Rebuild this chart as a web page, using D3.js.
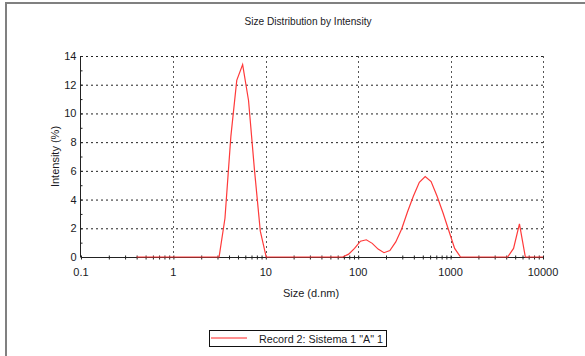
<!DOCTYPE html>
<html>
<head>
<meta charset="utf-8">
<script src="https://cdn.jsdelivr.net/npm/d3@7"></script>
<style>
  body { margin: 0; background: #fff; }
  svg text { font-family: "Liberation Sans", Arial, sans-serif; fill: #1a1a24; }
</style>
</head>
<body>
<div id="chart"></div>
<script>
var svgWidth = 585;
var svgHeight = 356;

// size bins (d.nm)
var sizes = [0.4, 0.4632, 0.5365, 0.6213, 0.7195, 0.8332, 0.9649, 1.117, 1.294, 1.499,
  1.736, 2.01, 2.328, 2.696, 3.122, 3.615, 4.187, 4.849, 5.615, 6.503,
  7.531, 8.721, 10.1, 11.7, 13.54, 15.69, 18.17, 21.04, 24.36, 28.21,
  32.67, 37.84, 43.82, 50.75, 58.77, 68.06, 78.82, 91.28, 105.7, 122.4,
  141.8, 164.2, 190.1, 220.2, 255, 295.3, 342, 396.1, 458.7, 531.2,
  615.1, 712.4, 825, 955.4, 1106, 1281, 1484, 1718, 1990, 2305,
  2669, 3091, 3580, 4145, 4801, 5560, 6439, 7456, 8635, 10000];

// intensity (%) for each bin
var intensity = [0, 0, 0, 0, 0, 0, 0, 0, 0, 0,
  0, 0, 0, 0, 0, 2.7, 8.4, 12.3, 13.4, 10.9,
  6.1, 1.8, 0, 0, 0, 0, 0, 0, 0, 0,
  0, 0, 0, 0, 0, 0, 0.2, 0.6, 1.1, 1.2,
  0.95, 0.55, 0.3, 0.45, 1.05, 1.95, 3.15, 4.25, 5.2, 5.6,
  5.25, 4.25, 3.1, 1.85, 0.6, 0, 0, 0, 0, 0,
  0, 0, 0, 0, 0.6, 2.3, 0, 0, 0, 0];

var xTicks = [0.1, 1, 10, 100, 1000, 10000];
var xTickLabels = ["0.1", "1", "10", "100", "1000", "10000"];
var yTicks = [0, 2, 4, 6, 8, 10, 12, 14];

var seriesName = 'Record 2: Sistema 1 "A" 1';

var plot = { left: 81, right: 543, top: 56, bottom: 257 };

var svg = d3.select("#chart")
    .append("svg")
    .attr("width", svgWidth)
    .attr("height", svgHeight);

// grey frame, top and left only
svg.append("line").attr("x1", 5).attr("x2", svgWidth).attr("y1", 3).attr("y2", 3)
    .attr("stroke", "#808080").attr("stroke-width", 2);
svg.append("line").attr("x1", 6).attr("x2", 6).attr("y1", 2).attr("y2", svgHeight)
    .attr("stroke", "#808080").attr("stroke-width", 2);

var x = d3.scaleLog().domain([0.1, 10000]).range([plot.left, plot.right]);
var y = d3.scaleLinear().domain([0, 14]).range([plot.bottom, plot.top]);

// dotted grid
svg.append("g").selectAll("line")
    .data(yTicks.slice(1))
    .join("line")
    .attr("x1", plot.left).attr("x2", plot.right)
    .attr("y1", d => y(d) + 0.5).attr("y2", d => y(d) + 0.5)
    .attr("stroke", "#222").attr("stroke-dasharray", "2,3");

svg.append("g").selectAll("line")
    .data(xTicks.slice(1))
    .join("line")
    .attr("x1", d => Math.round(x(d)) + 0.5).attr("x2", d => Math.round(x(d)) + 0.5)
    .attr("y1", plot.top).attr("y2", plot.bottom)
    .attr("stroke", "#555").attr("stroke-dasharray", "2,3");

// minor ticks on the x axis
var minor = [];
for (var i = 0; i < xTicks.length - 1; i++) {
    for (var k = 2; k <= 9; k++) minor.push(xTicks[i] * k);
}

var xAxis = d3.axisBottom(x)
    .tickValues(xTicks.concat(minor))
    .tickSize(2)
    .tickFormat("");

var gx = svg.append("g")
    .attr("transform", `translate(0,${plot.bottom + 0.5})`)
    .call(xAxis);
gx.selectAll(".tick line").attr("y1", -2).attr("stroke", "#222");
gx.select(".domain").attr("stroke", "#222").attr("d", `M${plot.left},0H${plot.right}`);

gx.selectAll(".xlab")
    .data(xTicks)
    .join("text")
    .attr("class", "xlab")
    .attr("x", d => x(d))
    .attr("y", 18)
    .attr("text-anchor", "middle")
    .style("font-size", "11px")
    .text((d, i) => xTickLabels[i]);

// y axis with minor ticks at each unit
var yAxis = d3.axisLeft(y)
    .tickValues(d3.range(0, 15, 1))
    .tickSize(3)
    .tickFormat("");

var gy = svg.append("g")
    .attr("transform", `translate(${plot.left - 0.5},0)`)
    .call(yAxis);
gy.selectAll(".tick line").attr("x2", 2).attr("stroke", "#222");
gy.select(".domain").attr("stroke", "#222").attr("d", `M0,${plot.top}V${plot.bottom}`);

gy.selectAll(".ylab")
    .data(yTicks)
    .join("text")
    .attr("class", "ylab")
    .attr("x", -4)
    .attr("y", d => y(d) + 4)
    .attr("text-anchor", "end")
    .style("font-size", "11px")
    .text(d => d);

// the distribution curve
var line = d3.line()
    .x((d, i) => x(sizes[i]))
    .y(d => y(d));

svg.append("path")
    .datum(intensity)
    .attr("fill", "none")
    .attr("stroke", "#ff3a3a")
    .attr("stroke-width", 1.2)
    .attr("d", line);

// titles
svg.append("text")
    .attr("x", 308).attr("y", 25)
    .attr("text-anchor", "middle")
    .attr("textLength", 127)
    .attr("lengthAdjust", "spacingAndGlyphs")
    .style("font-size", "11.5px")
    .text("Size Distribution by Intensity");

svg.append("text")
    .attr("x", 311).attr("y", 297)
    .attr("text-anchor", "middle")
    .style("font-size", "11px")
    .text("Size (d.nm)");

svg.append("text")
    .attr("transform", `translate(59,${(plot.top + plot.bottom) / 2}) rotate(-90)`)
    .attr("text-anchor", "middle")
    .style("font-size", "11px")
    .text("Intensity (%)");

// legend
var legend = svg.append("g");
legend.append("rect")
    .attr("x", 209.5).attr("y", 330.5)
    .attr("width", 177).attr("height", 16)
    .attr("fill", "#fff").attr("stroke", "#111");
legend.append("line")
    .attr("x1", 211).attr("x2", 247).attr("y1", 338).attr("y2", 338)
    .attr("stroke", "#ff2020");
legend.append("text")
    .attr("x", 259).attr("y", 343)
    .attr("textLength", 124)
    .attr("lengthAdjust", "spacingAndGlyphs")
    .style("font-size", "11px")
    .text(seriesName);
</script>
</body>
</html>
